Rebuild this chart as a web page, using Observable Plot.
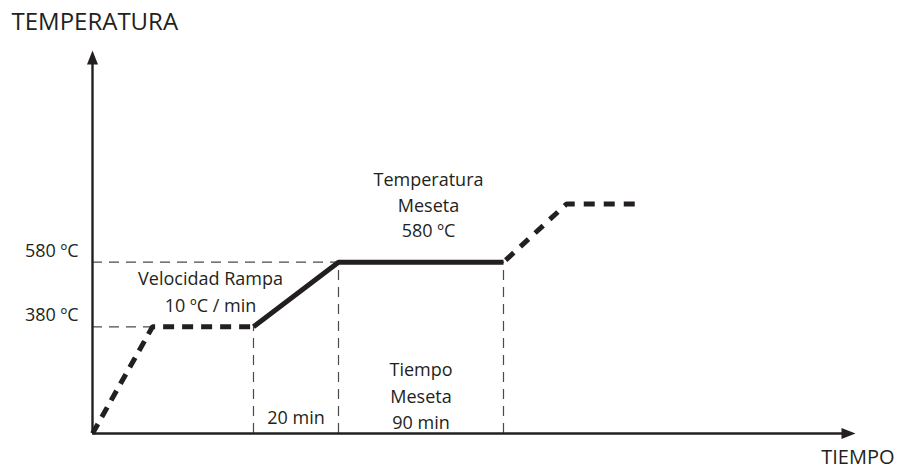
<!DOCTYPE html>
<html>
<head>
<meta charset="utf-8">
<script src="https://cdn.jsdelivr.net/npm/d3@7"></script>
<script src="https://cdn.jsdelivr.net/npm/@observablehq/plot@0.6"></script>
<style>
  html, body { margin: 0; padding: 0; background: #fff; }
  #chart svg { display: block; }
</style>
</head>
<body>
<div id="chart"></div>
<script>
// Schematic time units (not to scale) and temperatures (ºC) of the profile corners
const stageX = [0, 60, 161, 246, 411, 474, 550];
const stageT = [50, 380, 380, 580, 580, 760, 760];
// Axis extents
const axisX = [0, 763];
const axisT = [50, 1235];
// Tick labels on the temperature axis
const tempTicks = [380, 580];
const tempTickLabels = ["380 ºC", "580 ºC"];
// Annotations
const rampLabel = "Velocidad Rampa\n10 ºC / min";
const plateauTempLabel = "Temperatura\nMeseta\n580 ºC";
const plateauTimeLabel = "Tiempo\nMeseta\n90 min";
const rampTimeLabel = "20 min";
const yTitle = "TEMPERATURA";
const xTitle = "TIEMPO";

const pts = stageX.map((x, i) => ({x, t: stageT[i]}));
const dashedStart = pts.slice(0, 3);
const solidPart = pts.slice(2, 5);
const dashedEnd = pts.slice(4, 7);
const ink = "#231f20";
const guide = "#4a4a4a";
const font = "'Open Sans', sans-serif";

const hGuides = [
  {x1: axisX[0], x2: stageX[3], t: stageT[3]},
  {x1: axisX[0], x2: stageX[1], t: stageT[1]}
];
const vGuides = [
  {x: stageX[2], t1: axisT[0], t2: stageT[2]},
  {x: stageX[3], t1: axisT[0], t2: stageT[3]},
  {x: stageX[4], t1: axisT[0], t2: stageT[4]}
];
const ticks = tempTicks.map((t, i) => ({t, label: tempTickLabels[i]}));
const notes = [
  {x: 118, t: 425, text: rampLabel, lh: 1.5},
  {x: 336, t: 657, text: plateauTempLabel, lh: 1.42},
  {x: (stageX[3] + stageX[4]) / 2, t: 65, text: plateauTimeLabel, lh: 1.45},
  {x: (stageX[2] + stageX[3]) / 2, t: 78, text: rampTimeLabel, lh: 1.5}
];

const chart = Plot.plot({
  width: 901,
  height: 470,
  margin: 0,
  style: {fontFamily: font, background: "#fff"},
  x: {domain: axisX, range: [92, 855], axis: null},
  y: {domain: axisT, range: [433, 50], axis: null},
  marks: [
    // thin dashed guide lines
    Plot.ruleY(hGuides, {y: "t", x1: "x1", x2: "x2", stroke: guide, strokeWidth: 1.2, strokeDasharray: "10,7"}),
    Plot.ruleX(vGuides, {x: "x", y1: "t1", y2: "t2", stroke: guide, strokeWidth: 1.2, strokeDasharray: "10,7"}),
    // axes
    Plot.ruleX([axisX[0]], {y1: axisT[0], y2: axisT[1] - 20, stroke: ink, strokeWidth: 2.4}),
    Plot.ruleY([axisT[0]], {x1: axisX[0], x2: axisX[1] - 8, stroke: ink, strokeWidth: 2.4}),
    Plot.vector([{x: axisX[0], t: axisT[1]}], {x: "x", y: "t", shape: "spike", anchor: "end", length: 14, r: 5.5, rotate: 0, fill: ink, stroke: "none"}),
    Plot.vector([{x: axisX[1], t: axisT[0]}], {x: "x", y: "t", shape: "spike", anchor: "end", length: 14, r: 5.5, rotate: 90, fill: ink, stroke: "none"}),
    // profile
    Plot.line(dashedStart, {x: "x", y: "t", stroke: ink, strokeWidth: 5, strokeDasharray: "11,8", strokeLinejoin: "miter", strokeLinecap: "butt"}),
    Plot.line(dashedEnd, {x: "x", y: "t", stroke: ink, strokeWidth: 5, strokeDasharray: "11,9", strokeDashoffset: -3, strokeLinejoin: "miter", strokeLinecap: "butt"}),
    Plot.line(solidPart, {x: "x", y: "t", stroke: ink, strokeWidth: 5, strokeLinejoin: "miter", strokeLinecap: "butt"}),
    // tick labels
    Plot.text(ticks, {x: () => axisX[0], y: "t", text: "label", textAnchor: "end", lineAnchor: "bottom", dx: -14, dy: -5.5, fontSize: 18, fill: ink}),
    // annotations
    ...notes.map(n => Plot.text([n], {x: "x", y: "t", text: "text", textAnchor: "middle", lineAnchor: "bottom", lineHeight: n.lh, fontSize: 18, fill: ink})),
    // axis titles
    Plot.text([yTitle], {frameAnchor: "top-left", textAnchor: "start", lineAnchor: "top", dx: 11, dy: 12, fontSize: 24, fill: ink}),
    Plot.text([xTitle], {frameAnchor: "bottom-right", textAnchor: "end", lineAnchor: "bottom", dx: -7, dy: -7, fontSize: 20, fill: ink})
  ]
});
document.getElementById("chart").appendChild(chart);
</script>
</body>
</html>
